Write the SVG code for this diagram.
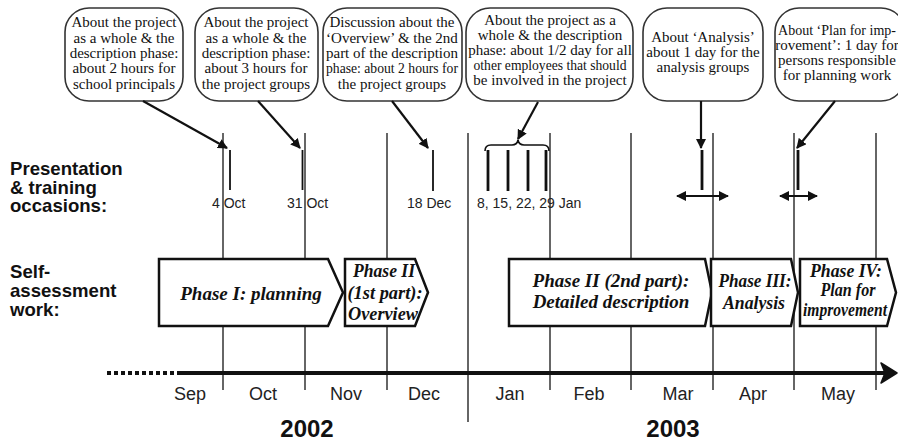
<svg xmlns="http://www.w3.org/2000/svg" width="898" height="441" viewBox="0 0 898 441">
  <defs>
    <marker id="head" viewBox="0 0 10 10" refX="9" refY="5" markerWidth="10" markerHeight="10" markerUnits="userSpaceOnUse" orient="auto-start-reverse">
      <path d="M0,0 L10,5 L0,10 Z" fill="#111"/>
    </marker>
    <style>
      .bubble { fill: #fff; stroke: #333; stroke-width: 1.6; }
      .btxt { font-family: "Liberation Serif", "Times New Roman", serif; font-size: 15px; fill: #111; text-anchor: middle; }
      .label { font-family: "Liberation Sans", Arial, sans-serif; font-size: 18.6px; font-weight: bold; fill: #111; }
      .grid { stroke: #333; stroke-width: 1.5; fill: none; }
      .mark { stroke: #111; stroke-width: 1.8; }
      .markb { stroke: #111; stroke-width: 2.8; }
      .date { font-family: "Liberation Sans", Arial, sans-serif; font-size: 14px; fill: #222; }
      .month { font-family: "Liberation Sans", Arial, sans-serif; font-size: 18px; fill: #222; text-anchor: middle; }
      .year { font-family: "Liberation Sans", Arial, sans-serif; font-size: 24px; font-weight: bold; fill: #111; text-anchor: middle; }
      .phase { fill: #fff; stroke: #111; stroke-width: 2.5; stroke-linejoin: miter; }
      .ptxt { font-family: "Liberation Serif", "Times New Roman", serif; font-size: 19px; font-weight: bold; font-style: italic; fill: #111; text-anchor: middle; }
      .conn { stroke: #111; stroke-width: 2.2; fill: none; }
    </style>
  </defs>

  <!-- month grid lines -->
  <g id="grid">
    <line class="grid" x1="223" y1="133" x2="223" y2="390"/>
    <line class="grid" x1="305" y1="133" x2="305" y2="390"/>
    <line class="grid" x1="387" y1="133" x2="387" y2="390"/>
    <line class="grid" x1="468" y1="133" x2="468" y2="422" stroke-width="2.2"/>
    <line class="grid" x1="550" y1="133" x2="550" y2="390"/>
    <line class="grid" x1="631" y1="133" x2="631" y2="390"/>
    <line class="grid" x1="713" y1="133" x2="713" y2="390"/>
    <line class="grid" x1="794" y1="133" x2="794" y2="390"/>
    <line class="grid" x1="876" y1="133" x2="876" y2="390"/>
  </g>

  <!-- row labels -->
  <g id="row-labels">
    <text class="label" x="10" y="175">Presentation</text>
    <text class="label" x="10" y="193.5">&amp; training</text>
    <text class="label" x="10" y="212">occasions:</text>
    <text class="label" x="10" y="278">Self-</text>
    <text class="label" x="10" y="297">assessment</text>
    <text class="label" x="10" y="316">work:</text>
  </g>

  <!-- callouts -->
  <g id="callout-1">
    <rect class="bubble" x="65" y="8" width="118" height="93" rx="24"/>
    <text class="btxt" x="124" y="27">About the project</text>
    <text class="btxt" x="124" y="42.5">as a whole &amp; the</text>
    <text class="btxt" x="124" y="58">description phase:</text>
    <text class="btxt" x="124" y="73">about 2 hours for</text>
    <text class="btxt" x="124" y="88.5">school principals</text>
  </g>
  <g id="callout-2">
    <rect class="bubble" x="195" y="8" width="123" height="93" rx="24"/>
    <text class="btxt" x="256" y="27">About the project</text>
    <text class="btxt" x="256" y="42.5">as a whole &amp; the</text>
    <text class="btxt" x="256" y="58">description phase:</text>
    <text class="btxt" x="256" y="73">about 3 hours for</text>
    <text class="btxt" x="256" y="88.5">the project groups</text>
  </g>
  <g id="callout-3">
    <rect class="bubble" x="323" y="8" width="139" height="93" rx="24"/>
    <text class="btxt" x="392" y="27" font-size="14.2">Discussion about the</text>
    <text class="btxt" x="392" y="42.5" font-size="14.2">‘Overview’ &amp; the 2nd</text>
    <text class="btxt" x="392" y="58" font-size="14.2">part of the description</text>
    <text class="btxt" x="392" y="73" font-size="14.2" textLength="132" lengthAdjust="spacingAndGlyphs">phase: about 2 hours for</text>
    <text class="btxt" x="392" y="88.5" font-size="14.2">the project groups</text>
  </g>
  <g id="callout-4">
    <rect class="bubble" x="466" y="8" width="167" height="93" rx="24"/>
    <text class="btxt" x="550" y="25" font-size="14">About the project as a</text>
    <text class="btxt" x="550" y="40" font-size="14">whole &amp; the description</text>
    <text class="btxt" x="550" y="55" font-size="14">phase: about 1/2 day for all</text>
    <text class="btxt" x="550" y="70" font-size="14" textLength="153" lengthAdjust="spacingAndGlyphs">other employees that should</text>
    <text class="btxt" x="550" y="85" font-size="14">be involved in the project</text>
  </g>
  <g id="callout-5">
    <rect class="bubble" x="643" y="8" width="120" height="93" rx="24"/>
    <text class="btxt" x="703" y="42">About ‘Analysis’</text>
    <text class="btxt" x="703" y="57">about 1 day for the</text>
    <text class="btxt" x="703" y="72">analysis groups</text>
  </g>
  <g id="callout-6">
    <rect class="bubble" x="775" y="8" width="130" height="93" rx="24"/>
    <text class="btxt" x="837" y="35" font-size="14.2" textLength="118" lengthAdjust="spacingAndGlyphs">About ‘Plan for imp-</text>
    <text class="btxt" x="837" y="50" font-size="14.2">rovement’: 1 day for</text>
    <text class="btxt" x="837" y="65" font-size="14.2">persons responsible</text>
    <text class="btxt" x="837" y="80" font-size="14.2">for planning work</text>
  </g>

  <!-- presentation and training occasions -->
  <g id="occasions">
    <line class="mark" x1="230" y1="150" x2="230" y2="190"/>
    <text class="date" x="212" y="208">4 Oct</text>
    <line class="mark" x1="302.5" y1="150" x2="302.5" y2="190"/>
    <text class="date" x="287" y="208">31 Oct</text>
    <line class="mark" x1="433" y1="150" x2="433" y2="191"/>
    <text class="date" x="407" y="208">18 Dec</text>
    <line class="markb" x1="488" y1="150" x2="488" y2="191"/>
    <line class="markb" x1="508" y1="150" x2="508" y2="191"/>
    <line class="markb" x1="528" y1="150" x2="528" y2="191"/>
    <line class="markb" x1="546" y1="150" x2="546" y2="191"/>
    <path d="M485,151 Q485,145 491,145 L512,145 Q517,145 518,140 Q519,145 524,145 L543,145 Q549,145 549,151" fill="none" stroke="#111" stroke-width="1.6"/>
    <text class="date" x="477" y="208">8, 15, 22, 29 Jan</text>
    <line class="markb" x1="702" y1="150" x2="702" y2="190"/>
    <line class="markb" x1="798" y1="150" x2="798" y2="190"/>
  </g>

  <!-- self-assessment phases -->
  <g id="phase-1">
    <path class="phase" d="M159,259 H328 L343,292.5 L328,326 H159 Z"/>
    <text class="ptxt" x="251" y="300">Phase I: planning</text>
  </g>
  <g id="phase-2a">
    <path class="phase" d="M345,259 H415 L428,292.5 L415,326 H345 Z"/>
    <text class="ptxt" x="384" y="277" font-size="18" textLength="62" lengthAdjust="spacingAndGlyphs">Phase II</text>
    <text class="ptxt" x="385" y="298.5" font-size="18" textLength="75" lengthAdjust="spacingAndGlyphs">(1st part):</text>
    <text class="ptxt" x="383" y="320" font-size="18" textLength="70" lengthAdjust="spacingAndGlyphs">Overview</text>
  </g>
  <g id="phase-2b">
    <path class="phase" d="M509,259 H705 L712,292.5 L705,326 H509 Z"/>
    <text class="ptxt" x="611" y="287">Phase II (2nd part):</text>
    <text class="ptxt" x="611" y="308">Detailed description</text>
  </g>
  <g id="phase-3">
    <path class="phase" d="M711,259 H791 L798,292.5 L791,326 H711 Z"/>
    <text class="ptxt" x="755" y="287" textLength="73" lengthAdjust="spacingAndGlyphs">Phase III:</text>
    <text class="ptxt" x="754" y="309" textLength="62" lengthAdjust="spacingAndGlyphs">Analysis</text>
  </g>
  <g id="phase-4">
    <path class="phase" d="M800,259 H887 L896,292.5 L887,326 H800 Z"/>
    <text class="ptxt" x="846" y="277" textLength="72" lengthAdjust="spacingAndGlyphs">Phase IV:</text>
    <text class="ptxt" x="848" y="296" textLength="55" lengthAdjust="spacingAndGlyphs">Plan for</text>
    <text class="ptxt" x="845" y="316" font-size="18" textLength="84" lengthAdjust="spacingAndGlyphs">improvement</text>
  </g>

  <!-- time axis -->
  <g id="axis">
    <line x1="107" y1="373" x2="177" y2="373" stroke="#111" stroke-width="4" stroke-dasharray="4,3"/>
    <line x1="177" y1="373" x2="887" y2="373" stroke="#111" stroke-width="4"/>
    <path d="M897,373 L881,363 L885,373 L881,383 Z" fill="#111" stroke="#111" stroke-width="1.5" stroke-linejoin="round"/>
    <text class="month" x="190" y="400">Sep</text>
    <text class="month" x="263" y="400">Oct</text>
    <text class="month" x="346" y="400">Nov</text>
    <text class="month" x="424" y="400">Dec</text>
    <text class="month" x="510" y="400">Jan</text>
    <text class="month" x="589" y="400">Feb</text>
    <text class="month" x="678" y="400">Mar</text>
    <text class="month" x="753" y="400">Apr</text>
    <text class="month" x="838" y="400">May</text>
    <text class="year" x="307" y="437">2002</text>
    <text class="year" x="673" y="437">2003</text>
  </g>

  <!-- connectors -->
  <g id="connectors">
    <line class="conn" x1="143" y1="101" x2="227" y2="148" marker-end="url(#head)"/>
    <line class="conn" x1="258" y1="101" x2="300" y2="148" marker-end="url(#head)"/>
    <line class="conn" x1="392" y1="101" x2="428" y2="148" marker-end="url(#head)"/>
    <line class="conn" x1="538" y1="102" x2="518" y2="139" marker-end="url(#head)"/>
    <line class="conn" x1="701" y1="101" x2="701" y2="148" marker-end="url(#head)"/>
    <line class="conn" x1="835" y1="101" x2="797" y2="148" marker-end="url(#head)"/>
    <line class="conn" x1="677" y1="196" x2="728" y2="196" marker-start="url(#head)" marker-end="url(#head)"/>
    <line class="conn" x1="780" y1="196" x2="817" y2="196" marker-start="url(#head)" marker-end="url(#head)"/>
  </g>
</svg>
